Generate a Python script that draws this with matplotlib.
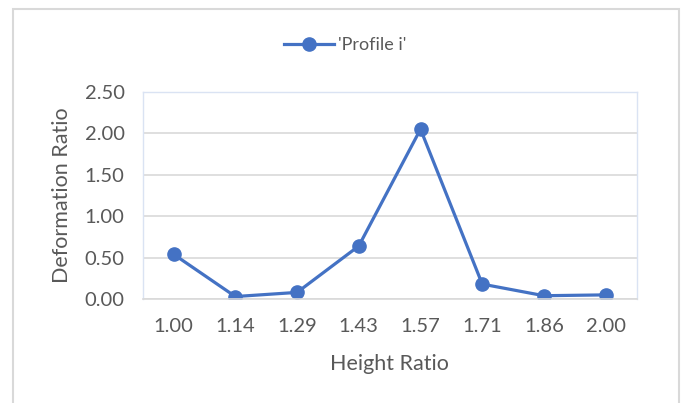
import matplotlib
matplotlib.use('Agg')
import matplotlib.pyplot as plt
from matplotlib.patches import Rectangle

height_ratio = ['1.00', '1.14', '1.29', '1.43', '1.57', '1.71', '1.86', '2.00']
profile_i = [0.54, 0.03, 0.08, 0.64, 2.05, 0.18, 0.04, 0.05]
y_ticks = [0.0, 0.5, 1.0, 1.5, 2.0, 2.5]

blue = '#4472C4'
text_grey = '#595959'

plt.rcParams['font.family'] = ['Lato', 'DejaVu Sans']

fig = plt.figure(figsize=(6.83, 4.03), dpi=100)
ax = fig.add_axes([0.209, 0.258, 0.723, 0.514])

x = range(len(height_ratio))
ax.plot(x, profile_i, color=blue, linewidth=2.3, marker='o', markersize=9.5,
        label="'Profile i'")

ax.set_xlim(-0.5, len(height_ratio) - 0.5)
ax.set_ylim(0, 2.5)
ax.set_xticks(list(x))
ax.set_xticklabels(height_ratio)
ax.set_yticks(y_ticks)
ax.set_yticklabels(['{:.2f}'.format(v) for v in y_ticks])
ax.tick_params(axis='both', length=0, labelsize=14.5, labelcolor=text_grey)
ax.tick_params(axis='y', pad=13)
ax.tick_params(axis='x', pad=14)
ax.grid(axis='y', color='#d9d9d9', linewidth=1.2)
ax.set_axisbelow(True)

for side in ['left', 'right', 'top']:
    ax.spines[side].set_color('#dae3f3')
    ax.spines[side].set_linewidth(1.0)
ax.spines['bottom'].set_color('#d9d9d9')
ax.spines['bottom'].set_linewidth(1.2)

ax.set_xlabel('Height Ratio', fontsize=15.5, color=text_grey, labelpad=13)
ax.set_ylabel('Deformation Ratio', fontsize=15.5, color=text_grey, labelpad=9)

ax.legend(loc='center', bbox_to_anchor=(0.41, 1.225), frameon=False,
          fontsize=13, labelcolor=text_grey, handlelength=2.8, handletextpad=0.2)

fig.patches.append(Rectangle((13 / 683, -0.05), 666 / 683, 1 - 9 / 403 + 0.05,
                             transform=fig.transFigure, fill=False,
                             edgecolor='#d9d9d9', linewidth=1.5))

fig.savefig('out.png', dpi=100)
